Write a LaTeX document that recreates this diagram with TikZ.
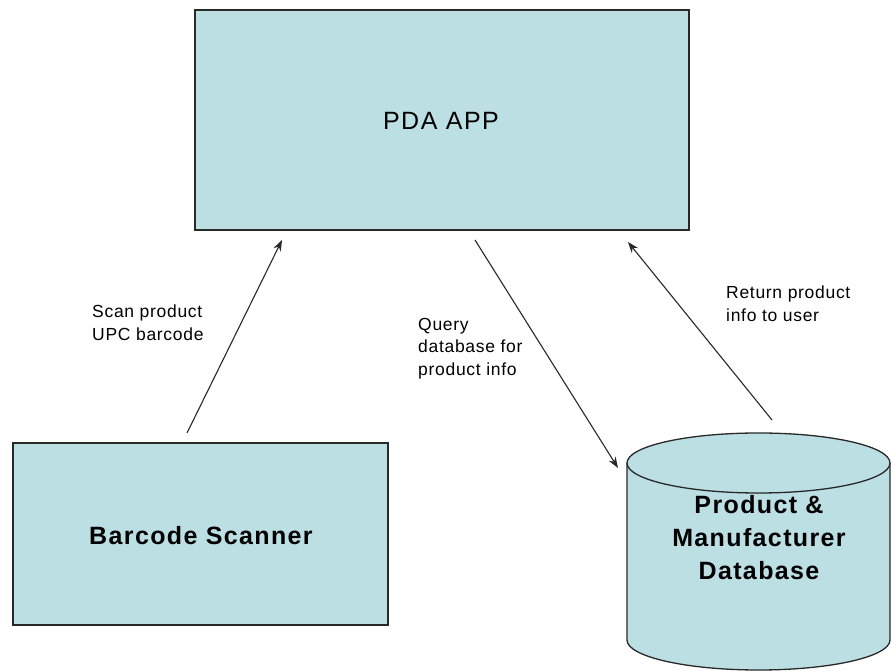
\documentclass[tikz,border=0pt]{standalone}
\usepackage{fontspec}
\setmainfont{Liberation Sans}
\usetikzlibrary{arrows.meta,calc}
\definecolor{boxfill}{RGB}{187,223,227}
\definecolor{edge}{RGB}{40,40,40}
\begin{document}
\begin{tikzpicture}[x=1pt,y=1pt,
  box/.style={draw=edge,line width=1.3pt,fill=boxfill,inner sep=0pt},
  big/.style={font=\fontsize{25}{33}\selectfont\bfseries\addfontfeatures{LetterSpace=5.5}},
  lbl/.style={font=\fontsize{17.5}{22.5}\selectfont\addfontfeatures{LetterSpace=4},align=left,anchor=north west,inner sep=0pt},
  conn/.style={draw=edge,line width=1.1pt,-{Stealth[length=11pt,width=8pt]}}]
\useasboundingbox (0,0) rectangle (891,671);
\fill[white] (0,0) rectangle (891,671);
% PDA APP box
\node[box,minimum width=494pt,minimum height=220pt] (pda) at (442,551) {};
\node[font=\fontsize{25}{30}\selectfont\addfontfeatures{LetterSpace=6}] (pdat) at (441,550) {PDA APP};
% Barcode scanner
\node[box,minimum width=375pt,minimum height=182pt] (scan) at (200.5,137) {};
\node[big] (scant) at (201,135) {Barcode Scanner};
% Database cylinder
\fill[boxfill] (627,208) -- (627,31) arc[start angle=180,end angle=360,x radius=131.5pt,y radius=30pt] -- (890,208) -- cycle;
\draw[edge,line width=1.3pt] (627,208) -- (627,31) arc[start angle=180,end angle=360,x radius=131.5pt,y radius=30pt] -- (890,208);
\draw[edge,line width=1.3pt,fill=boxfill] (758.5,208) ellipse[x radius=131.5pt,y radius=30pt];
\node[big,align=center] (db) at (759,133) {Product \&\\Manufacturer\\Database};
% connector endpoints
\coordinate (s1) at (187,238);
\coordinate (s2) at (282,431);
\coordinate (q1) at (475,431);
\coordinate (q2) at (618,203);
\coordinate (r1) at (772,251);
\coordinate (r2) at (628,429);
\draw[conn] (s1) -- (s2);
\draw[conn] (q1) -- (q2);
\draw[conn] (r1) -- (r2);
% labels
\node[lbl] (ls) at (92,366) {Scan product\\UPC barcode};
\node[lbl] (lq) at (418,353) {Query\\database for\\product info};
\node[lbl] (lr) at (726,385) {Return product\\info to user};
\end{tikzpicture}
\end{document}
